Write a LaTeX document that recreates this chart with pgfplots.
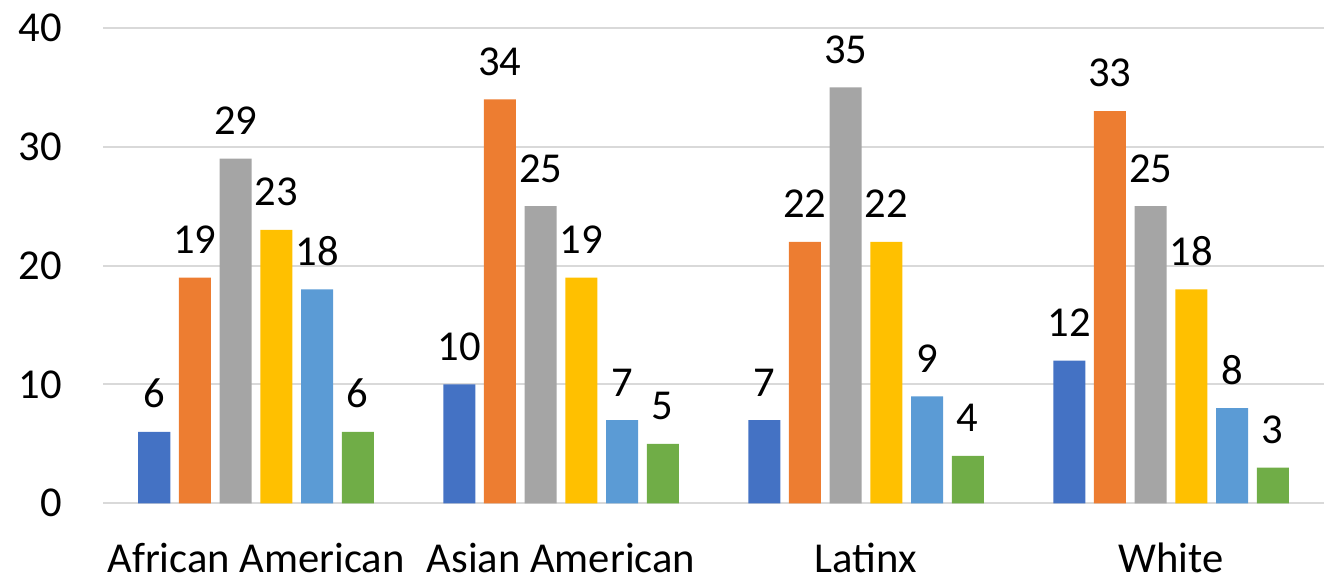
\documentclass[border=0pt]{standalone}
\usepackage{fontspec}
\setmainfont{Carlito}
\usepackage{pgfplots}
\pgfplotsset{compat=1.18}

\definecolor{cblue}{HTML}{4472C4}
\definecolor{corange}{HTML}{ED7D31}
\definecolor{cgray}{HTML}{A5A5A5}
\definecolor{cyellow}{HTML}{FFC000}
\definecolor{clblue}{HTML}{5B9BD5}
\definecolor{cgreen}{HTML}{70AD47}
\definecolor{gridgray}{HTML}{D9D9D9}

\newcommand{\chartfont}{\fontsize{21.3}{25}\selectfont}

\begin{document}
\begin{tikzpicture}
\begin{axis}[
  name=ax, at={(0,0)}, anchor=south west,
  scale only axis, width=610pt, height=237.65pt,
  xmin=-0.5, xmax=3.5, ymin=0, ymax=40,
  ybar, bar width=16pt,
  xtick={0,1,2,3},
  xticklabels={African American, Asian American, Latinx, White},
  ytick={0,10,20,30,40},
  ymajorgrids, grid style={draw=gridgray, line width=1pt},
  axis x line*=bottom, axis y line*=left,
  x axis line style={draw=gridgray, line width=1pt},
  y axis line style={draw=none},
  tick style={draw=none}, major tick length=0pt,
  /pgf/number format/assume math mode=true,
  every tick label/.append style={font=\chartfont, text=black},
  yticklabel style={anchor=east, inner sep=0pt, xshift=-20.75pt},
  xticklabel style={anchor=north, inner sep=0pt, yshift=-19.5pt},
  nodes near coords,
  every node near coord/.append style={font=\chartfont, text=black, anchor=south, inner sep=0pt, yshift=11.75pt},
  clip=false,
]
\addplot[fill=cblue,   draw=none, bar shift=-50.875pt] coordinates {(0,6)  (1,10) (2,7)  (3,12)};
\addplot[fill=corange, draw=none, bar shift=-30.525pt] coordinates {(0,19) (1,34) (2,22) (3,33)};
\addplot[fill=cgray,   draw=none, bar shift=-10.175pt] coordinates {(0,29) (1,25) (2,35) (3,25)};
\addplot[fill=cyellow, draw=none, bar shift=10.175pt]  coordinates {(0,23) (1,19) (2,22) (3,18)};
\addplot[fill=clblue,  draw=none, bar shift=30.525pt]  coordinates {(0,18) (1,7)  (2,9)  (3,8)};
\addplot[fill=cgreen,  draw=none, bar shift=50.875pt]  coordinates {(0,6)  (1,5)  (2,4)  (3,3)};
\end{axis}
\pgfresetboundingbox
\path ([xshift=-51.75pt,yshift=-35.85pt]ax.south west) rectangle ([xshift=0.75pt,yshift=14pt]ax.north east);
\end{tikzpicture}
\end{document}
